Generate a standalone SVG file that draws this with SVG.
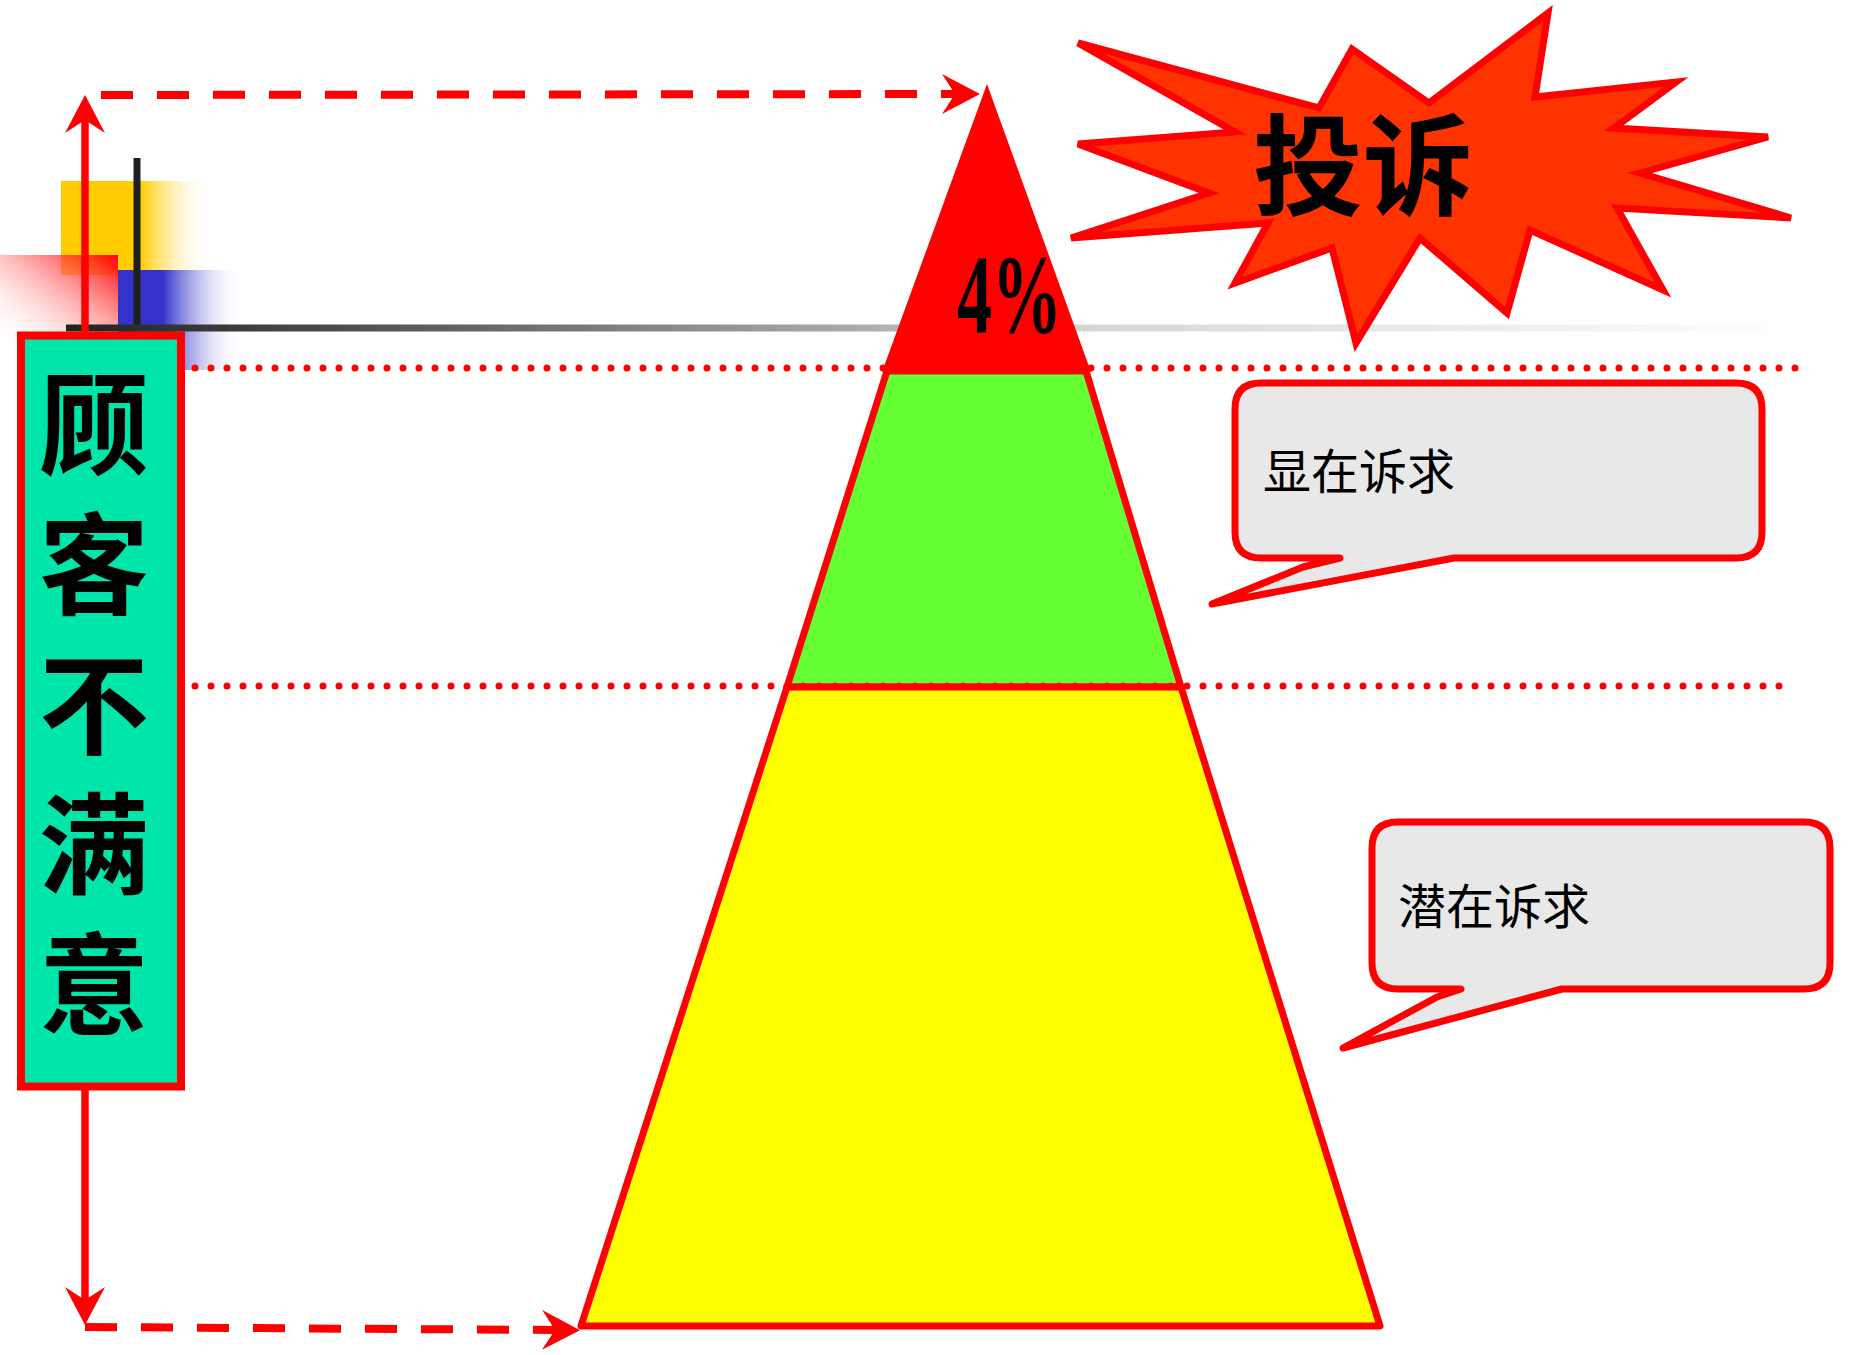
<svg xmlns="http://www.w3.org/2000/svg" width="1865" height="1355" viewBox="0 0 1865 1355">
<style>
.cjk{font-family:"Noto Sans CJK SC","Noto Sans",sans-serif;fill:#000}
.big{font-size:110px;font-weight:bold}
.call{fill:#E8E8E8;stroke:#FF0000;stroke-width:7;stroke-linejoin:round}
.dots{stroke:#FF0000;stroke-width:7;stroke-linecap:round;stroke-dasharray:0 16;fill:none}
.dash{stroke:#FF0000;stroke-width:8;stroke-dasharray:32 24;fill:none}
.band{stroke:#FF0000;stroke-width:7;stroke-linejoin:round}
</style>
<defs>
<linearGradient id="gY" x1="0" y1="0" x2="1" y2="0"><stop offset="0" stop-color="#FFCC00"/><stop offset="0.53" stop-color="#FFCC00"/><stop offset="1" stop-color="#FFFFFF" stop-opacity="0"/></linearGradient>
<linearGradient id="gR" x1="1" y1="0" x2="0" y2="1"><stop offset="0" stop-color="#FF0000"/><stop offset="1" stop-color="#FFFFFF" stop-opacity="0"/></linearGradient>
<linearGradient id="gB" x1="0" y1="0" x2="1" y2="0"><stop offset="0" stop-color="#3333CC"/><stop offset="0.36" stop-color="#3333CC"/><stop offset="1" stop-color="#FFFFFF" stop-opacity="0"/></linearGradient>
<linearGradient id="gL" gradientUnits="userSpaceOnUse" x1="66" y1="0" x2="1790" y2="0"><stop offset="0" stop-color="#222222"/><stop offset="0.147" stop-color="#4a4a4a"/><stop offset="0.455" stop-color="#aaaaaa"/><stop offset="0.571" stop-color="#d4d4d4"/><stop offset="0.832" stop-color="#eeeeee"/><stop offset="1" stop-color="#ffffff"/></linearGradient>
<marker id="ah" viewBox="0 0 40 40" refX="13" refY="20" markerWidth="40" markerHeight="40" markerUnits="userSpaceOnUse" orient="auto-start-reverse"><path d="M0,0 L38,20 L0,40 L13,20 Z" fill="#FF0000"/></marker>
</defs>

<g id="decoration">
<rect x="61" y="181" width="150" height="94" fill="url(#gY)"/>
<rect x="0" y="255" width="118" height="90" fill="url(#gR)"/>
<rect x="118" y="270" width="125" height="100" fill="url(#gB)"/>
<line x1="137" y1="158" x2="137" y2="325" stroke="#1e1e1e" stroke-width="7"/>
<line x1="66" y1="328" x2="1790" y2="328" stroke="url(#gL)" stroke-width="7"/>
</g>

<g id="pyramid">
<g id="tip-4pct">
<polygon points="987,84 1091,372 882,372" fill="#FF0000"/>
</g>
<g id="band-explicit">
<polygon class="band" points="887,371 1086,371 1181,687 787,687" fill="#66FF33"/>
</g>
<g id="band-latent">
<polygon class="band" points="787,687 1181,687 1380,1326 581,1326" fill="#FFFF00"/>
</g>
</g>

<g id="connectors">
<path class="dots" d="M195,368 H1801"/>
<path class="dots" d="M195,686 H1786"/>
<path class="dash" d="M101,95 L955,94" marker-end="url(#ah)"/>
<path class="dash" d="M85,1327 L555,1330" marker-end="url(#ah)"/>
<path d="M85,120 V1300" stroke="#FF0000" stroke-width="7.5" fill="none" marker-start="url(#ah)" marker-end="url(#ah)"/>
</g>

<g id="label-4pct">
<text x="957" y="333" font-family="Liberation Serif, serif" font-size="112" font-weight="bold" textLength="105" lengthAdjust="spacingAndGlyphs" fill="#000">4%</text>
</g>

<g id="dissatisfaction-box">
<rect x="21" y="335.5" width="160" height="751" fill="#00E5AA" stroke="#FF0000" stroke-width="8"/>
<text class="cjk big" x="94" y="369" writing-mode="vertical-rl" letter-spacing="30">顾客不满意</text>
</g>

<g id="complaint-burst">
<polygon points="1078,43 1319,108 1352,49 1429,103 1548,13 1535,97 1676,82 1614,128 1768,137 1640,173 1791,218 1617,208 1663,290 1530,230 1507,313 1420,238 1356,343 1332,248 1235,283 1268,223 1071,238 1209,193 1078,144 1235,132" fill="#FF3300" stroke="#FF0000" stroke-width="7" stroke-linejoin="miter"/>
<text class="cjk big" x="1363" y="207" text-anchor="middle">投诉</text>
</g>

<g id="callout-explicit">
<path class="call" d="M1261,383 H1736 Q1762,383 1762,409 V532 Q1762,558 1736,558 H1454 L1212,604 L1303,567 L1340,558 H1261 Q1235,558 1235,532 V409 Q1235,383 1261,383 Z"/>
<text class="cjk" x="1263" y="489" font-size="48">显在诉求</text>
</g>

<g id="callout-latent">
<path class="call" d="M1398,822 H1804 Q1830,822 1830,848 V963 Q1830,989 1804,989 H1562 L1343,1048 L1437,997 L1461,989 H1398 Q1372,989 1372,963 V848 Q1372,822 1398,822 Z"/>
<text class="cjk" x="1398" y="924" font-size="48">潜在诉求</text>
</g>
</svg>
